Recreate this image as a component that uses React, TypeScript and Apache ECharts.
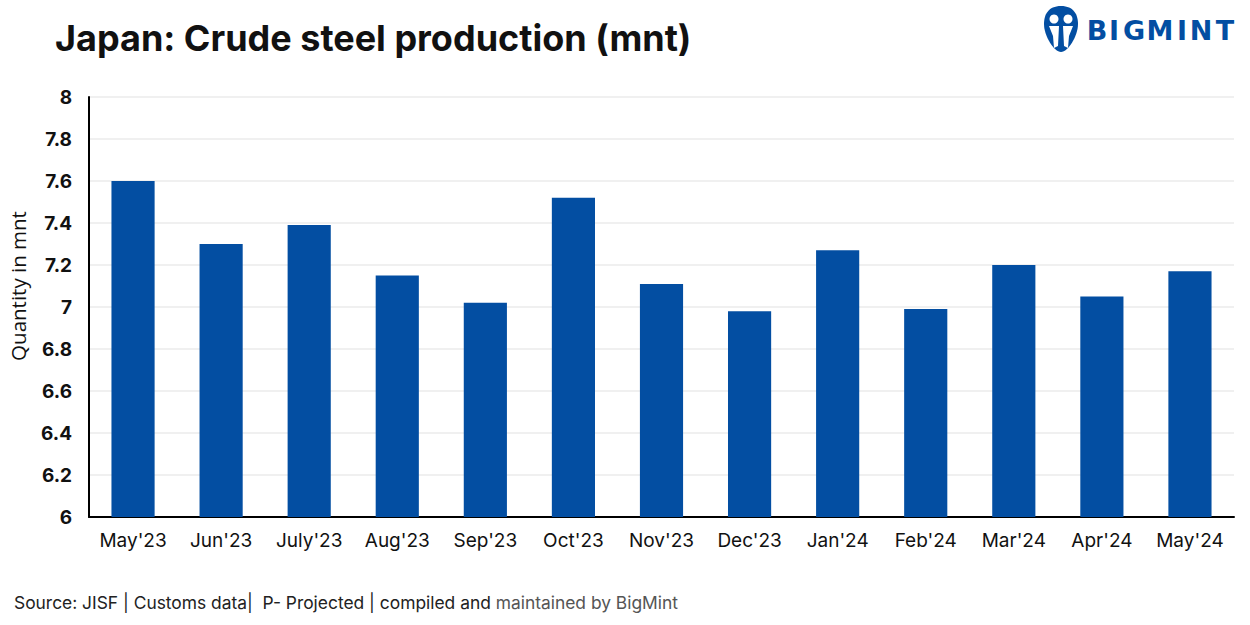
import React, { useEffect, useRef } from "react";
import * as echarts from "echarts";

const categories = ["May'23", "Jun'23", "July'23", "Aug'23", "Sep'23", "Oct'23", "Nov'23", "Dec'23", "Jan'24", "Feb'24", "Mar'24", "Apr'24", "May'24"];
const production = [7.6, 7.3, 7.39, 7.15, 7.02, 7.52, 7.11, 6.98, 7.27, 6.99, 7.2, 7.05, 7.17];
const titleText = "Japan: Crude steel production (mnt)";
const axisName = "Quantity in mnt";
const sourceText = "Source: JISF | Customs data|  P- Projected | compiled and ";
const sourceText2 = "maintained by BigMint";
const logoLetters = ["B", "I", "G", "M", "I", "N", "T"];

const BLUE = "#034EA2";
const logoCenters = [1097, 1114, 1134, 1160, 1182, 1201, 1225];

echarts.graphic.registerShape(
  "bmLogoBlob",
  echarts.graphic.extendPath(
    "M17 0 C30 0 34 9 34 18 C34 30 24 46 17 46 C10 46 0 30 0 18 C0 9 4 0 17 0 Z",
    {}
  )
);

export default function App() {
  const ref = useRef<HTMLDivElement>(null);
  useEffect(() => {
    if (!ref.current) return;
    const chart = echarts.init(ref.current, null, { renderer: "svg" });
    chart.setOption({
      animation: false,
      backgroundColor: "#ffffff",
      grid: { left: 89, right: 16, top: 97, bottom: 108, containLabel: false, outerBoundsMode: "none" },
      xAxis: {
        type: "category",
        data: categories,
        axisLine: { show: true, lineStyle: { color: "#000", width: 2 } },
        axisTick: { show: false },
        axisLabel: { color: "#111", fontSize: 19, fontFamily: "Inter", margin: 14, interval: 0 },
      },
      yAxis: {
        type: "value",
        min: 6,
        max: 8,
        interval: 0.2,
        axisLine: { show: true, lineStyle: { color: "#000", width: 2 } },
        axisTick: { show: false },
        splitLine: { show: true, lineStyle: { color: "#f0f0f0", width: 2 } },
        axisLabel: {
          color: "#111",
          fontSize: 19,
          fontWeight: "bold",
          fontFamily: "Inter",
          margin: 17,
          formatter: (v: number) => String(parseFloat(v.toFixed(1))),
        },
      },
      series: [
        {
          type: "bar",
          data: production,
          barWidth: "49%",
          itemStyle: { color: BLUE },
        },
      ],
      graphic: [
        {
          type: "text",
          left: 55,
          top: 20,
          style: { text: titleText, fill: "#111", font: "bold 36px Inter" },
        },
        {
          type: "text",
          x: 18,
          y: 286,
          rotation: Math.PI / 2,
          style: {
            text: axisName,
            fill: "#111",
            font: "20.5px 'Open Sans'",
            textAlign: "center",
            textVerticalAlign: "middle",
          },
        },
        {
          type: "text",
          left: 14,
          top: 594,
          style: {
            text: "{a|" + sourceText + "}{b|" + sourceText2 + "}",
            rich: {
              a: { fill: "#222", fontSize: 17.4, fontFamily: "Inter" },
              b: { fill: "#555", fontSize: 17.4, fontFamily: "Inter" },
            },
          },
        },
        {
          type: "group",
          left: 1044,
          top: 6,
          children: [
            { type: "bmLogoBlob", x: 0, y: 0, scaleX: 1, scaleY: 1, style: { fill: BLUE } },
            { type: "circle", shape: { cx: 10, cy: 13, r: 4.5 }, style: { fill: "#fff" } },
            { type: "circle", shape: { cx: 24, cy: 13, r: 4.5 }, style: { fill: "#fff" } },
            { type: "polygon", shape: { points: [[5, 20], [15, 20], [14, 40], [10, 42], [9, 30]] }, style: { fill: "#fff" } },
            { type: "polygon", shape: { points: [[19, 20], [29, 20], [25, 30], [24, 42], [20, 40]] }, style: { fill: "#fff" } },
          ],
        },
        ...logoLetters.map((ch, i) => ({
          type: "text",
          x: logoCenters[i],
          y: 44,
          style: {
            text: ch,
            fill: BLUE,
            font: "bold 27px 'DejaVu Sans'",
            textAlign: "center",
            textVerticalAlign: "bottom",
          },
        })),
      ],
    });
    return () => chart.dispose();
  }, []);
  return (
    <div
      ref={ref}
      style={{ position: "fixed", left: 0, top: 0, width: 1250, height: 625 }}
    />
  );
}
